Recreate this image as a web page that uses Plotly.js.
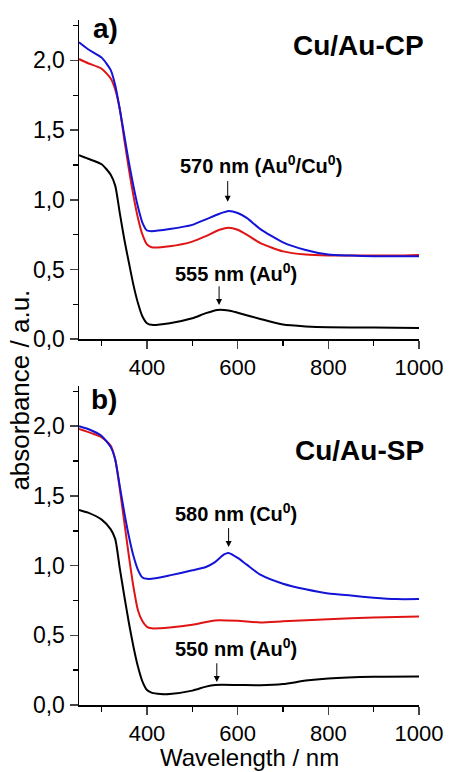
<!DOCTYPE html>
<html>
<head>
<meta charset="utf-8">
<script src="https://cdn.plot.ly/plotly-3.0.1.min.js"></script>
<style>html,body{margin:0;padding:0;background:#fff;}#plot{width:449px;height:772px;}</style>
</head>
<body>
<div id="plot"></div>
<script>
// Panel a) Cu/Au-CP
const wlA = [250,270,300,320,330,340,350,360,370,380,390,400,410,450,500,530,560,580,600,620,650,700,750,800,850,900,950,1000];
const blueA = [2.13,2.08,2.02,1.93,1.82,1.65,1.46,1.27,1.10,0.95,0.835,0.78,0.775,0.79,0.82,0.86,0.90,0.92,0.905,0.87,0.79,0.695,0.64,0.607,0.60,0.595,0.595,0.595];
const redA  = [2.01,1.98,1.94,1.87,1.79,1.65,1.43,1.22,1.03,0.87,0.75,0.68,0.66,0.667,0.70,0.74,0.785,0.80,0.785,0.75,0.69,0.63,0.607,0.60,0.60,0.60,0.60,0.605];
const wlA2 = [250,270,300,320,330,340,350,360,370,380,390,400,410,450,500,530,555,580,600,650,700,750,800,900,1000];
const blackA = [1.32,1.295,1.255,1.18,1.10,0.905,0.715,0.55,0.39,0.26,0.163,0.115,0.103,0.115,0.15,0.187,0.21,0.206,0.19,0.145,0.105,0.092,0.086,0.084,0.08];

// Panel b) Cu/Au-SP
const wlB = [250,270,300,320,330,340,350,360,370,380,390,400,410,450,500,530,550,570,580,600,620,650,700,750,800,850,900,950,1000];
const blueB = [2.0,1.98,1.93,1.85,1.76,1.57,1.38,1.21,1.07,0.97,0.915,0.905,0.905,0.93,0.966,0.99,1.025,1.08,1.09,1.055,1.007,0.935,0.87,0.83,0.80,0.785,0.77,0.76,0.76];
const wlB2 = [250,300,320,330,340,350,360,370,380,390,400,410,450,500,550,600,650,700,800,900,1000];
const redB = [1.98,1.92,1.86,1.76,1.55,1.31,1.07,0.85,0.68,0.60,0.56,0.55,0.556,0.575,0.607,0.604,0.592,0.60,0.616,0.628,0.635];
const wlB3 = [250,270,300,320,330,340,350,360,370,380,390,400,410,430,450,500,530,550,600,650,700,750,800,900,1000];
const blackB = [1.40,1.38,1.33,1.26,1.19,0.98,0.78,0.59,0.42,0.276,0.168,0.108,0.089,0.079,0.079,0.103,0.132,0.144,0.144,0.142,0.15,0.175,0.19,0.202,0.204];

const xTickVals = [400,600,800,1000];
const yTickVals = [0,0.5,1.0,1.5,2.0];

const BLUE = '#1414d8', RED = '#e01414', BLACK = '#000000';
const FONT = '"Liberation Sans", Arial, Helvetica, sans-serif';

function tr(x, y, c, xa, ya) {
  return {x: x, y: y, type: 'scatter', mode: 'lines', xaxis: xa, yaxis: ya,
    line: {color: c, width: 2, shape: 'spline', smoothing: 0.6}, showlegend: false, hoverinfo: 'skip'};
}

const data = [
  tr(wlA, redA, RED, 'x', 'y'),
  tr(wlA, blueA, BLUE, 'x', 'y'),
  tr(wlA2, blackA, BLACK, 'x', 'y'),
  tr(wlB2, redB, RED, 'x2', 'y2'),
  tr(wlB, blueB, BLUE, 'x2', 'y2'),
  tr(wlB3, blackB, BLACK, 'x2', 'y2')
];

function xax(anchor) {
  return {range: [250, 1000], anchor: anchor, tickvals: xTickVals, ticks: 'outside', ticklen: 8, tickwidth: 1.5,
    ticklabelstandoff: 0,
    showline: true, linecolor: '#000', linewidth: 1.5, showgrid: false, zeroline: false,
    tickfont: {family: FONT, size: 22, color: '#000'},
    minor: {dtick: 100, tick0: 0, ticks: 'outside', ticklen: 5, tickwidth: 1.5, tickcolor: '#000', showgrid: false}};
}
function yax(anchor, domain) {
  return {range: [0, 2.29], anchor: anchor, domain: domain, tickvals: yTickVals, tickformat: '.1f', ticks: 'outside', ticklen: 8, tickwidth: 1.5,
    showline: true, linecolor: '#000', linewidth: 1.5, showgrid: false, zeroline: false,
    tickfont: {family: FONT, size: 23, color: '#000'},
    minor: {dtick: 0.25, tick0: 0, ticks: 'outside', ticklen: 5, tickwidth: 1.5, tickcolor: '#000', showgrid: false}};
}

function txt(xref, yref, x, y, text, size, xanchor, yanchor) {
  return {xref: xref, yref: yref, x: x, y: y, text: text, showarrow: false,
    xanchor: xanchor || 'center', yanchor: yanchor || 'middle', font: {family: FONT, size: size, color: '#000'}};
}
function arrow(xref, yref, x, yTip, yTail) {
  return {xref: xref, yref: yref, x: x, y: yTip, ax: x, ay: yTail, axref: xref, ayref: yref, text: '',
    showarrow: true, arrowhead: 2, arrowsize: 1.2, arrowwidth: 1, arrowcolor: '#000'};
}

const annotations = [
  txt('paper', 'y', 0.036, 2.23, '<b>a)</b>', 28, 'left'),
  txt('paper', 'y', 1.02, 2.105, '<b>Cu/Au-CP</b>', 28, 'right'),
  txt('x', 'y', 651, 1.251, '<b>570 nm (Au<sup>0</sup>/Cu<sup>0</sup>)</b>', 20),
  arrow('x', 'y', 578, 0.986, 1.145),
  txt('x', 'y', 596, 0.476, '<b>555 nm (Au<sup>0</sup>)</b>', 20),
  arrow('x', 'y', 559, 0.246, 0.39),
  txt('paper', 'y2', 0.03, 2.19, '<b>b)</b>', 28, 'left'),
  txt('paper', 'y2', 1.02, 1.823, '<b>Cu/Au-SP</b>', 28, 'right'),
  txt('x2', 'y2', 597, 1.378, '<b>580 nm (Cu<sup>0</sup>)</b>', 20),
  arrow('x2', 'y2', 580, 1.134, 1.28),
  txt('x2', 'y2', 597, 0.409, '<b>550 nm (Au<sup>0</sup>)</b>', 20),
  arrow('x2', 'y2', 554, 0.165, 0.31),
  Object.assign(txt('paper', 'paper', -0.1735, 0.459, 'absorbance / a.u.', 26), {textangle: -90}),
  Object.assign(txt('paper', 'paper', 0.5, -0.0978, 'Wavelength / nm', 24, 'center', 'bottom'), {borderpad: 0})
];

const layout = {
  width: 449, height: 772,
  margin: {l: 79, r: 30, t: 20, b: 67},
  paper_bgcolor: '#fff', plot_bgcolor: '#fff',
  separators: ',.',
  font: {family: FONT, color: '#000'},
  xaxis: xax('y'),
  yaxis: yax('x', [0.534, 1.0]),
  xaxis2: xax('y2'),
  yaxis2: yax('x2', [0, 0.466]),
  annotations: annotations,
  showlegend: false
};

Plotly.newPlot('plot', data, layout, {staticPlot: true, displayModeBar: false});
</script>
</body>
</html>
